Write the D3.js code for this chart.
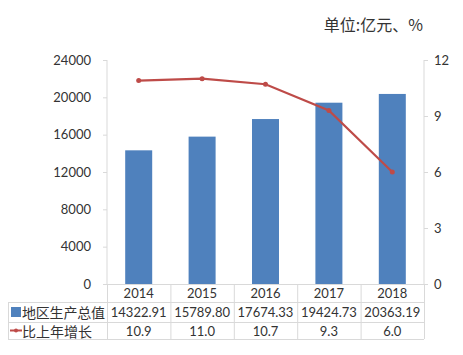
<!DOCTYPE html>
<html>
<head>
<meta charset="utf-8">
<script src="https://d3js.org/d3.v7.min.js"></script>
<style>
  body { margin: 0; background: #fff; }
  text { font-family: Lato, "Noto Sans CJK SC", sans-serif; fill: #333; }
  .cjk { font-family: "Noto Sans CJK SC", sans-serif; }
</style>
</head>
<body>
<svg id="chart"></svg>
<script>
// data
const years = ['2014', '2015', '2016', '2017', '2018'];
const gdp = [14322.91, 15789.80, 17674.33, 19424.73, 20363.19];
const gdpLabels = ['14322.91', '15789.80', '17674.33', '19424.73', '20363.19'];
const growth = [10.9, 11.0, 10.7, 9.3, 6.0];
const leftTicks = [0, 4000, 8000, 12000, 16000, 20000, 24000];
const rightTicks = [0, 3, 6, 9, 12];
const seriesNames = ['地区生产总值', '比上年增长'];
const unitLabel = '单位:亿元、%';

const W = 463, H = 355;
const plot = { left: 107, right: 424, top: 60, bottom: 284 };
const rows = [284, 302, 322, 339];
const tableLeft = 8;
const barColor = '#4f81bd', lineColor = '#be4b48', gridColor = '#d9d9d9';

const svg = d3.select('#chart').attr('width', W).attr('height', H);

const x = d3.scaleBand().domain(years).range([plot.left, plot.right]);
const yL = d3.scaleLinear().domain([0, 24000]).range([plot.bottom, plot.top]);
const yR = d3.scaleLinear().domain([0, 12]).range([plot.bottom, plot.top]);

// unit label
svg.append('text').attr('class', 'cjk')
  .attr('x', 423).attr('y', 31).attr('text-anchor', 'end')
  .attr('font-size', 16).text(unitLabel);

// left axis
const gL = svg.append('g').attr('transform', `translate(${plot.left},0)`)
  .call(d3.axisLeft(yL).tickValues(leftTicks).tickFormat(d3.format('d')).tickSize(4).tickPadding(12));
gL.selectAll('text').attr('font-size', 13).attr('fill', '#333');
gL.selectAll('line').attr('stroke', gridColor);
gL.select('.domain').attr('stroke', gridColor).attr('d', `M0,${plot.top}V${plot.bottom}`);

// right axis
const gR = svg.append('g').attr('transform', `translate(${plot.right},0)`)
  .call(d3.axisRight(yR).tickValues(rightTicks).tickSize(4).tickPadding(6));
gR.selectAll('text').attr('font-size', 13).attr('fill', '#333');
gR.selectAll('line').attr('stroke', gridColor);
gR.select('.domain').attr('stroke', gridColor).attr('d', `M0,${plot.top}V${plot.bottom}`);

// bars
const bw = 27;
svg.selectAll('.bar').data(years).join('rect')
  .attr('class', 'bar')
  .attr('x', d => x(d) + x.bandwidth() / 2 - bw / 2)
  .attr('y', (d, i) => yL(gdp[i]))
  .attr('width', bw)
  .attr('height', (d, i) => yL(0) - yL(gdp[i]))
  .attr('fill', barColor);

// line
const line = d3.line().x((d, i) => x(years[i]) + x.bandwidth() / 2).y(d => yR(d));
svg.append('path').datum(growth).attr('d', line)
  .attr('fill', 'none').attr('stroke', lineColor).attr('stroke-width', 2.2);
svg.selectAll('.dot').data(growth).join('circle')
  .attr('class', 'dot')
  .attr('cx', (d, i) => x(years[i]) + x.bandwidth() / 2)
  .attr('cy', d => yR(d)).attr('r', 2.5).attr('fill', lineColor);

// data table grid
const grid = svg.append('g').attr('stroke', gridColor).attr('stroke-width', 1);
grid.selectAll('.h').data(rows.slice(1)).join('line')
  .attr('x1', tableLeft).attr('x2', plot.right)
  .attr('y1', d => d + 0.5).attr('y2', d => d + 0.5);
grid.append('line').attr('x1', plot.left).attr('x2', plot.right)
  .attr('y1', rows[0] + 0.5).attr('y2', rows[0] + 0.5);
const vx = years.map(d => x(d)).concat([plot.right]);
grid.selectAll('.v').data(vx).join('line')
  .attr('x1', d => d + 0.5).attr('x2', d => d + 0.5)
  .attr('y1', rows[0]).attr('y2', rows[3]);
grid.append('line').attr('x1', tableLeft + 0.5).attr('x2', tableLeft + 0.5)
  .attr('y1', rows[1]).attr('y2', rows[3]);

// table text
const cx = d => x(d) + x.bandwidth() / 2;
const rowMid = i => (rows[i] + rows[i + 1]) / 2 + 5;
svg.selectAll('.yr').data(years).join('text')
  .attr('x', cx).attr('y', rowMid(0)).attr('text-anchor', 'middle')
  .attr('font-size', 13).text(d => d);
svg.selectAll('.gv').data(years).join('text')
  .attr('x', cx).attr('y', rowMid(1)).attr('text-anchor', 'middle')
  .attr('font-size', 13).text((d, i) => gdpLabels[i]);
svg.selectAll('.gr').data(years).join('text')
  .attr('x', cx).attr('y', rowMid(2)).attr('text-anchor', 'middle')
  .attr('font-size', 13).text((d, i) => growth[i].toFixed(1));

// legend keys in table
svg.append('rect').attr('x', 11).attr('y', rowMid(1) - 10).attr('width', 10).attr('height', 10).attr('fill', barColor);
svg.append('line').attr('x1', 10).attr('x2', 22).attr('y1', rowMid(2) - 5).attr('y2', rowMid(2) - 5)
  .attr('stroke', lineColor).attr('stroke-width', 2);
svg.append('circle').attr('cx', 16).attr('cy', rowMid(2) - 5).attr('r', 2).attr('fill', lineColor);
svg.append('text').attr('class', 'cjk').attr('x', 22).attr('y', rowMid(1) + 1)
  .attr('font-size', 14).attr('textLength', 83).text(seriesNames[0]);
svg.append('text').attr('class', 'cjk').attr('x', 22).attr('y', rowMid(2) + 1)
  .attr('font-size', 14).attr('textLength', 70).text(seriesNames[1]);
</script>
</body>
</html>
